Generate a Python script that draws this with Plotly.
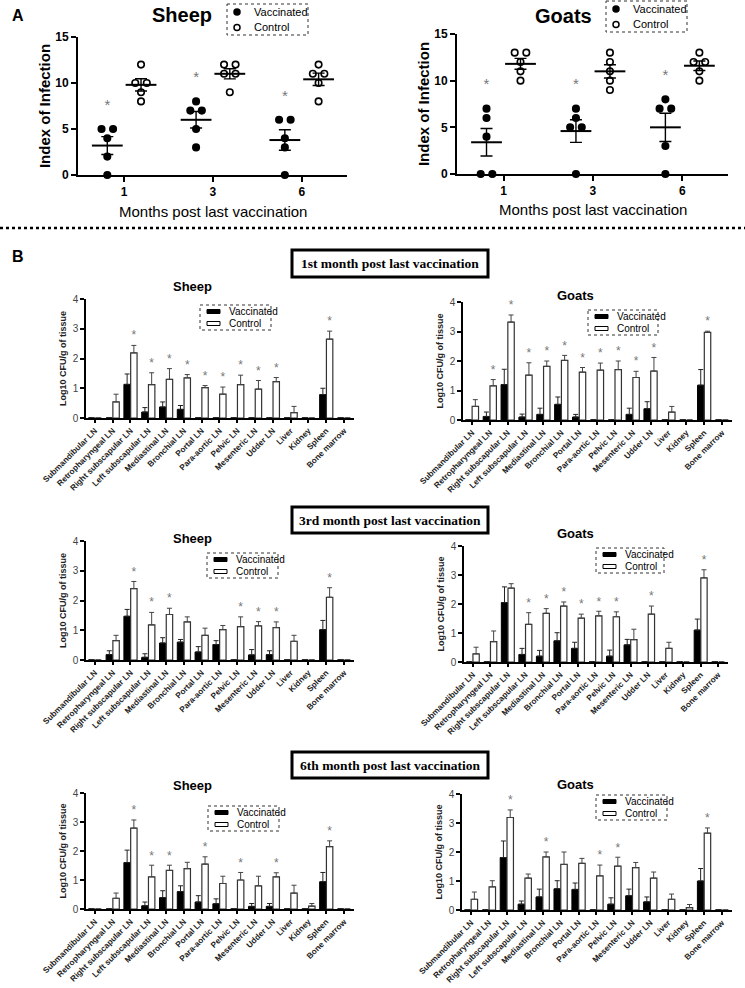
import numpy as np
import plotly.graph_objects as go

W, H = 745, 988

# ---------------- Panel A data (index of infection, individual animals) ----------------
months = ["1", "3", "6"]
sheep_vacc = [[5, 5, 4, 2, 0], [8, 7, 7, 5, 3], [6, 6, 4, 3, 0]]
sheep_ctrl = [[12, 10, 10, 9, 8], [12, 12, 11, 11, 9], [12, 11, 11, 10, 8]]
goat_vacc = [[7, 6, 4, 0, 0], [7, 6, 5, 5, 0], [8, 7, 7, 3, 0]]
goat_ctrl = [[13, 13, 12, 11, 10], [13, 12, 11, 10, 9], [13, 12, 12, 11, 10]]

# ---------------- Panel B data (Log10 CFU/g of tissue, mean and SEM) ----------------
tissues = ["Submandibular LN", "Retropharyngeal LN", "Right subscapular LN", "Left subscapular LN",
           "Mediastinal LN", "Bronchial LN", "Portal LN", "Para-aortic LN", "Pelvic LN",
           "Mesenteric LN", "Udder LN", "Liver", "Kidney", "Spleen", "Bone marrow"]
groups = ["Vaccinated", "Control"]

sheep1_vacc = [0, 0, 1.13, 0.20, 0.37, 0.29, 0, 0, 0, 0, 0, 0, 0, 0.79, 0]
sheep1_vacc_err = [0, 0, 0.35, 0.15, 0.17, 0.13, 0, 0, 0, 0, 0, 0, 0, 0.21, 0]
sheep1_ctrl = [0, 0.54, 2.19, 1.12, 1.30, 1.35, 1.02, 0.80, 1.12, 0.97, 1.22, 0.18, 0, 2.65, 0]
sheep1_ctrl_err = [0, 0.26, 0.25, 0.40, 0.36, 0.11, 0.07, 0.24, 0.32, 0.29, 0.14, 0.21, 0, 0.27, 0]
sheep1_sig = [0, 0, 1, 1, 1, 1, 1, 1, 1, 1, 1, 0, 0, 1, 0]

goat1_vacc = [0, 0.12, 1.20, 0.10, 0.19, 0.53, 0.10, 0, 0, 0.19, 0.38, 0, 0, 1.18, 0]
goat1_vacc_err = [0, 0.15, 0.52, 0.10, 0.21, 0.25, 0.09, 0, 0, 0.21, 0.24, 0, 0, 0.53, 0]
goat1_ctrl = [0.46, 1.16, 3.32, 1.52, 1.82, 2.02, 1.62, 1.69, 1.71, 1.44, 1.66, 0.27, 0, 2.97, 0]
goat1_ctrl_err = [0.23, 0.21, 0.24, 0.42, 0.18, 0.17, 0.16, 0.24, 0.29, 0.21, 0.46, 0.19, 0, 0.04, 0]
goat1_sig = [0, 1, 1, 1, 1, 1, 1, 1, 1, 1, 1, 0, 0, 1, 0]

sheep3_vacc = [0, 0.18, 1.47, 0.09, 0.57, 0.60, 0.27, 0.52, 0, 0.17, 0.18, 0, 0, 1.02, 0]
sheep3_vacc_err = [0, 0.13, 0.23, 0.12, 0.18, 0.09, 0.18, 0.13, 0, 0.18, 0.13, 0, 0, 0.31, 0]
sheep3_ctrl = [0, 0.65, 2.40, 1.18, 1.53, 1.28, 0.83, 1.02, 1.12, 1.15, 1.09, 0.63, 0, 2.11, 0]
sheep3_ctrl_err = [0, 0.18, 0.24, 0.42, 0.21, 0.17, 0.24, 0.14, 0.33, 0.14, 0.19, 0.20, 0, 0.32, 0]
sheep3_sig = [0, 0, 1, 1, 1, 0, 0, 0, 1, 1, 1, 0, 0, 1, 0]

goat3_vacc = [0, 0, 2.05, 0.26, 0.20, 0.73, 0.47, 0, 0.20, 0.59, 0, 0, 0, 1.10, 0]
goat3_vacc_err = [0, 0, 0.54, 0.21, 0.20, 0.28, 0.21, 0, 0.21, 0.19, 0, 0, 0, 0.38, 0]
goat3_ctrl = [0.28, 0.70, 2.55, 1.30, 1.68, 1.93, 1.51, 1.59, 1.56, 0.77, 1.65, 0.47, 0, 2.90, 0]
goat3_ctrl_err = [0.23, 0.37, 0.15, 0.40, 0.16, 0.14, 0.14, 0.16, 0.17, 0.36, 0.28, 0.21, 0, 0.28, 0]
goat3_sig = [0, 0, 0, 1, 1, 1, 1, 1, 1, 0, 1, 0, 0, 1, 0]

sheep6_vacc = [0, 0, 1.60, 0.11, 0.39, 0.60, 0.24, 0.18, 0, 0.09, 0.09, 0, 0, 0.94, 0]
sheep6_vacc_err = [0, 0, 0.43, 0.13, 0.24, 0.20, 0.22, 0.17, 0, 0.10, 0.10, 0, 0, 0.32, 0]
sheep6_ctrl = [0, 0.37, 2.79, 1.11, 1.33, 1.39, 1.55, 0.88, 1.00, 0.80, 1.11, 0.55, 0.10, 2.15, 0]
sheep6_ctrl_err = [0, 0.18, 0.28, 0.40, 0.18, 0.22, 0.25, 0.25, 0.26, 0.33, 0.14, 0.27, 0.09, 0.20, 0]
sheep6_sig = [0, 0, 1, 1, 1, 0, 1, 0, 1, 0, 1, 0, 0, 1, 0]

goat6_vacc = [0, 0, 1.81, 0.20, 0.45, 0.73, 0.71, 0, 0.20, 0.49, 0.28, 0, 0, 1.00, 0]
goat6_vacc_err = [0, 0, 0.57, 0.11, 0.27, 0.28, 0.22, 0, 0.22, 0.23, 0.17, 0, 0, 0.43, 0]
goat6_ctrl = [0.37, 0.80, 3.19, 1.10, 1.83, 1.57, 1.61, 1.18, 1.51, 1.46, 1.10, 0.37, 0.08, 2.65, 0]
goat6_ctrl_err = [0.25, 0.21, 0.26, 0.14, 0.17, 0.43, 0.17, 0.37, 0.31, 0.18, 0.21, 0.18, 0.11, 0.18, 0]
goat6_sig = [0, 0, 1, 0, 1, 0, 0, 1, 1, 0, 0, 0, 0, 1, 0]

section_titles = ["1st month post last vaccination", "3rd month post last vaccination",
                  "6th month post last vaccination"]

FONT = "Liberation Sans, Arial, sans-serif"
SERIF = "Liberation Serif, Times New Roman, serif"

fig = go.Figure()
layout_axes = {}
shapes = []
annotations = []


def dom_x(a, b):
    return [a / W, b / W]


def dom_y(bottom_px, top_px):
    return [1 - bottom_px / H, 1 - top_px / H]


def spread(vals, center, step=0.065):
    counts = {}
    for v in vals:
        counts[v] = counts.get(v, 0) + 1
    seen = {}
    xs = []
    for v in vals:
        n = counts[v]
        k = seen.get(v, 0)
        seen[v] = k + 1
        xs.append(center + (k - (n - 1) / 2) * 2 * step)
    return xs


def dotted_box(x0, y0, x1, y1, width=1):
    shapes.append(dict(type="rect", xref="paper", yref="paper",
                       x0=x0 / W, x1=x1 / W, y0=1 - y0 / H, y1=1 - y1 / H,
                       line=dict(color="#333", width=width, dash="dot"), layer="above"))


def text_at(x, y, txt, size, bold=False, family=FONT, color="black", anchor="center"):
    annotations.append(dict(xref="paper", yref="paper", x=x / W, y=1 - y / H, text=txt,
                            showarrow=False, xanchor=anchor, yanchor="middle",
                            font=dict(family=family, size=size, color=color,
                                      weight="bold" if bold else "normal")))


def bar_legend(x0, y0, x1, y1):
    dotted_box(x0, y0, x1, y1)
    for r, (lab, col) in enumerate(zip(groups, ["black", "white"])):
        cy = y0 + 6.5 + 12 * r
        shapes.append(dict(type="rect", xref="paper", yref="paper",
                           x0=(x0 + 7) / W, x1=(x0 + 20) / W,
                           y0=1 - (cy - 2) / H, y1=1 - (cy + 2) / H,
                           fillcolor=col, line=dict(color="black", width=1)))
        text_at(x0 + 27, cy, lab, 10, anchor="left")


def dot_legend(x0, y0, x1, y1):
    dotted_box(x0, y0, x1, y1)
    for r, (lab, col) in enumerate(zip(groups, ["black", "white"])):
        cy = y0 + 8 + 15.5 * r
        cx = x0 + 10
        shapes.append(dict(type="circle", xref="paper", yref="paper",
                           x0=(cx - 3) / W, x1=(cx + 3) / W,
                           y0=1 - (cy - 3) / H, y1=1 - (cy + 3) / H,
                           fillcolor=col, line=dict(color="black", width=1.5)))
        text_at(x0 + 25, cy, lab, 11, anchor="left")


# ---------------- Panel A ----------------
panelA = [
    dict(name="Sheep", vacc=sheep_vacc, ctrl=sheep_ctrl, ax=1, x=(78, 347), y=(175, 37),
         title=(182, 15), leg=(227, 4, 308, 35), xt=(213, 211)),
    dict(name="Goats", vacc=goat_vacc, ctrl=goat_ctrl, ax=2, x=(457, 728), y=(174, 34),
         title=(563, 16), leg=(606, 1, 687, 32), xt=(593, 209)),
]

for p in panelA:
    xa = "x" if p["ax"] == 1 else "x%d" % p["ax"]
    ya = "y" if p["ax"] == 1 else "y%d" % p["ax"]
    for m in range(len(months)):
        for grp, pts, filled in ((groups[0], p["vacc"][m], True), (groups[1], p["ctrl"][m], False)):
            center = m - 0.19 if filled else m + 0.19
            fig.add_trace(go.Scatter(
                x=spread(pts, center), y=pts, mode="markers", name=grp, showlegend=False,
                marker=dict(size=6.5, color="black" if filled else "white",
                            line=dict(color="black", width=1.6)),
                cliponaxis=False, xaxis=xa, yaxis=ya, hoverinfo="skip"))
            arr = np.array(pts, dtype=float)
            mean = arr.mean()
            sem = arr.std(ddof=1) / np.sqrt(len(arr))
            fig.add_trace(go.Scatter(
                x=[center], y=[mean], mode="markers", showlegend=False,
                marker=dict(symbol="line-ew", size=22, color="black",
                            line=dict(color="black", width=2)),
                error_y=dict(type="data", array=[sem], width=6, thickness=1.4, color="black"),
                cliponaxis=False, xaxis=xa, yaxis=ya, hoverinfo="skip"))
        fig.add_trace(go.Scatter(
            x=[m - 0.19], y=[max(p["vacc"][m]) + 2.5], mode="text", text=["*"],
            textfont=dict(family=FONT, size=15, color="#777"), showlegend=False,
            cliponaxis=False, xaxis=xa, yaxis=ya, hoverinfo="skip"))

    xkey = "xaxis" if p["ax"] == 1 else "xaxis%d" % p["ax"]
    ykey = "yaxis" if p["ax"] == 1 else "yaxis%d" % p["ax"]
    layout_axes[xkey] = dict(
        domain=dom_x(*p["x"]), range=[-0.52, 2.51], anchor=ya, automargin=False,
        tickvals=list(range(len(months))), ticktext=months,
        showline=True, linecolor="black", linewidth=2, ticks="outside", ticklen=5,
        tickwidth=2, tickcolor="black", showgrid=False, zeroline=False,
        tickfont=dict(family=FONT, size=12, color="black", weight="bold"))
    layout_axes[ykey] = dict(
        domain=dom_y(*p["y"]), range=[0, 15], anchor=xa, tickvals=[0, 5, 10, 15],
        automargin=False,
        showline=True, linecolor="black", linewidth=2, ticks="outside", ticklen=5,
        tickwidth=2, tickcolor="black", showgrid=False, zeroline=False,
        tickfont=dict(family=FONT, size=12, color="black", weight="bold"),
        title=dict(text="Index of Infection", standoff=1,
                   font=dict(family=FONT, size=15, color="black", weight="bold")))
    text_at(p["xt"][0], p["xt"][1], "Months post last vaccination", 15)
    text_at(p["title"][0], p["title"][1], p["name"], 20, bold=True)
    dot_legend(*p["leg"])

# ---------------- Panel B ----------------
panelB = [
    dict(name="Sheep", vacc=sheep1_vacc, verr=sheep1_vacc_err, ctrl=sheep1_ctrl, cerr=sheep1_ctrl_err,
         sig=sheep1_sig, x=(86, 354), y=(418, 299), title=(192, 286), leg=(200, 305, 271, 330)),
    dict(name="Goats", vacc=goat1_vacc, verr=goat1_vacc_err, ctrl=goat1_ctrl, cerr=goat1_ctrl_err,
         sig=goat1_sig, x=(463, 732), y=(420, 302), title=(575, 295), leg=(588, 310, 658, 335)),
    dict(name="Sheep", vacc=sheep3_vacc, verr=sheep3_vacc_err, ctrl=sheep3_ctrl, cerr=sheep3_ctrl_err,
         sig=sheep3_sig, x=(86, 354), y=(660, 541), title=(192, 538), leg=(207, 553, 278, 578)),
    dict(name="Goats", vacc=goat3_vacc, verr=goat3_vacc_err, ctrl=goat3_ctrl, cerr=goat3_ctrl_err,
         sig=goat3_sig, x=(464, 728), y=(662, 546), title=(575, 533), leg=(596, 548, 664, 573)),
    dict(name="Sheep", vacc=sheep6_vacc, verr=sheep6_vacc_err, ctrl=sheep6_ctrl, cerr=sheep6_ctrl_err,
         sig=sheep6_sig, x=(86, 354), y=(909, 793), title=(192, 785), leg=(208, 806, 279, 831)),
    dict(name="Goats", vacc=goat6_vacc, verr=goat6_vacc_err, ctrl=goat6_ctrl, cerr=goat6_ctrl_err,
         sig=goat6_sig, x=(462, 732), y=(910, 794), title=(575, 784), leg=(596, 795, 667, 820)),
]

idx = np.arange(len(tissues))
for k, p in enumerate(panelB):
    axn = k + 3
    xa, ya = "x%d" % axn, "y%d" % axn
    fig.add_trace(go.Bar(
        x=idx - 0.19, y=p["vacc"], width=0.36, name=groups[0], showlegend=False,
        marker=dict(color="black", line=dict(color="black", width=1)),
        error_y=dict(type="data", symmetric=False, array=p["verr"], arrayminus=[0] * len(idx),
                     width=2.5, thickness=1, color="#222"),
        xaxis=xa, yaxis=ya, hoverinfo="skip"))
    fig.add_trace(go.Bar(
        x=idx + 0.19, y=p["ctrl"], width=0.36, name=groups[1], showlegend=False,
        marker=dict(color="white", line=dict(color="#333", width=1.2)),
        error_y=dict(type="data", symmetric=False, array=p["cerr"], arrayminus=[0] * len(idx),
                     width=2.5, thickness=1, color="#444"),
        xaxis=xa, yaxis=ya, hoverinfo="skip"))
    sx = [i + 0.19 for i in idx if p["sig"][i]]
    sy = [p["ctrl"][i] + p["cerr"][i] + 0.3 for i in idx if p["sig"][i]]
    fig.add_trace(go.Scatter(
        x=sx, y=sy, mode="text", text=["*"] * len(sx), showlegend=False,
        textfont=dict(family=FONT, size=12, color="#777"), cliponaxis=False,
        xaxis=xa, yaxis=ya, hoverinfo="skip"))
    layout_axes["xaxis%d" % axn] = dict(
        domain=dom_x(*p["x"]), range=[-0.5, 14.56], anchor=ya, automargin=False,
        tickvals=list(idx), ticktext=tissues, tickangle=-45,
        showline=True, linecolor="black", linewidth=1.5, ticks="outside", ticklen=3,
        tickwidth=1.5, tickcolor="black", showgrid=False, zeroline=False,
        tickfont=dict(family=FONT, size=8.2, color="#222", weight="bold"))
    layout_axes["yaxis%d" % axn] = dict(
        domain=dom_y(*p["y"]), range=[0, 4], anchor=xa, tickvals=[0, 1, 2, 3, 4],
        automargin=False,
        showline=True, linecolor="black", linewidth=1.5, ticks="outside", ticklen=4,
        tickwidth=1.5, tickcolor="black", showgrid=False, zeroline=False,
        tickfont=dict(family=FONT, size=10, color="#444"),
        title=dict(text="Log10 CFU/g of tissue", standoff=5,
                   font=dict(family=FONT, size=9, color="#222", weight="bold")))
    text_at(p["title"][0], p["title"][1], p["name"], 13, bold=True)
    bar_legend(*p["leg"])

# Panel letters, separator and section titles
text_at(18, 15, "A", 16, bold=True)
text_at(18, 256, "B", 16, bold=True)
shapes.append(dict(type="line", xref="paper", yref="paper", x0=0, x1=1,
                   y0=1 - 228 / H, y1=1 - 228 / H,
                   line=dict(color="black", width=2.5, dash="dot")))
for title, (top, bot) in zip(section_titles, [(250, 277), (507, 533), (752, 778)]):
    shapes.append(dict(type="rect", xref="paper", yref="paper",
                       x0=292 / W, x1=488 / W, y0=1 - top / H, y1=1 - bot / H,
                       line=dict(color="black", width=3)))
    text_at(390, (top + bot) / 2, title, 13.5, bold=True, family=SERIF)

fig.update_layout(
    width=W, height=H, margin=dict(l=0, r=0, t=0, b=0, autoexpand=False),
    paper_bgcolor="white", plot_bgcolor="white", barmode="overlay",
    shapes=shapes, annotations=annotations, showlegend=False,
    font=dict(family=FONT),
    **layout_axes)

fig.write_html("out.html", config={"displayModeBar": False},
               post_script="document.body.style.margin='0px';")
